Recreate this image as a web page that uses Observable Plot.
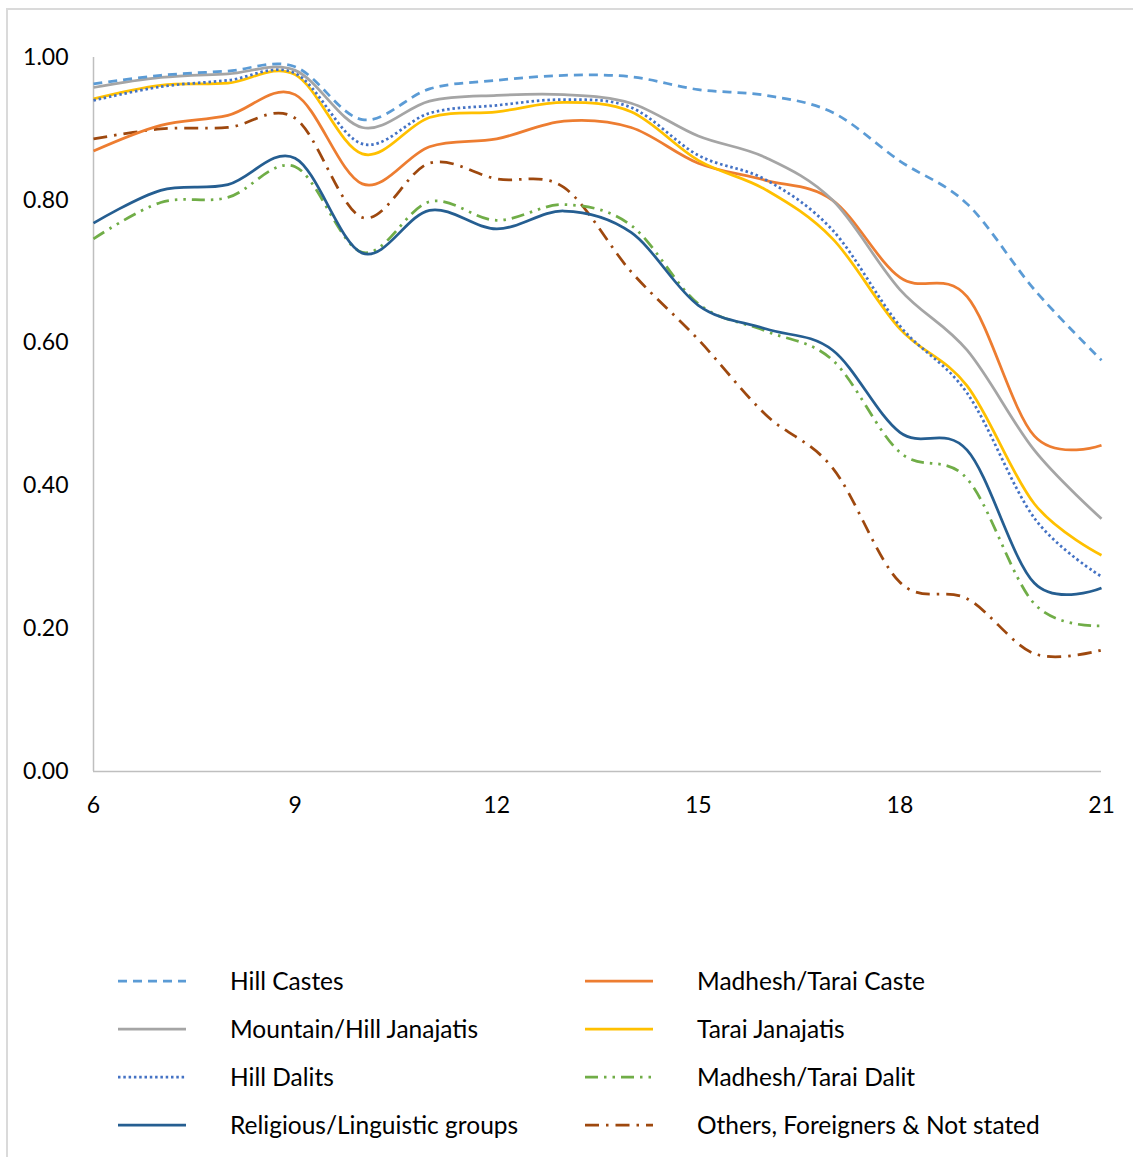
<!DOCTYPE html>
<html>
<head>
<meta charset="utf-8">
<script src="https://cdn.jsdelivr.net/npm/d3@7"></script>
<script src="https://cdn.jsdelivr.net/npm/@observablehq/plot@0.6"></script>
<style>
  html, body { margin: 0; padding: 0; background: #fff; overflow: hidden; width: 1133px; height: 1157px; }
  #frame { position: absolute; left: 6px; top: 8px; width: 1200px; height: 1200px; border: 2px solid #dadada; box-sizing: border-box; }
  #chart { position: absolute; left: 0; top: 0; }
  #legend { position: absolute; left: 0; top: 957px; width: 1133px; font-family: Lato, "Open Sans", sans-serif; font-size: 24.5px; color: #000; }
  .item { position: absolute; height: 48px; line-height: 48px; white-space: nowrap; }
  .item svg { position: absolute; top: 0; }
  .item span { position: absolute; }
</style>
</head>
<body>
<div id="frame"></div>
<div id="chart"></div>
<div id="legend"></div>
<script>
const ages = [6, 7, 8, 9, 10, 11, 12, 13, 14, 15, 16, 17, 18, 19, 20, 21];
const xTicks = [6, 9, 12, 15, 18, 21];
const yTicks = [0, 0.2, 0.4, 0.6, 0.8, 1.0];

const hillCastes            = [0.963, 0.975, 0.981, 0.987, 0.913, 0.956, 0.968, 0.975, 0.973, 0.955, 0.947, 0.923, 0.855, 0.795, 0.675, 0.576];
const madheshTaraiCaste     = [0.869, 0.905, 0.919, 0.948, 0.823, 0.875, 0.886, 0.911, 0.902, 0.852, 0.828, 0.800, 0.692, 0.665, 0.470, 0.457];
const mountainHillJanajatis = [0.958, 0.972, 0.977, 0.982, 0.902, 0.939, 0.947, 0.948, 0.936, 0.890, 0.860, 0.800, 0.675, 0.590, 0.450, 0.354];
const taraiJanajatis        = [0.942, 0.961, 0.964, 0.976, 0.865, 0.916, 0.924, 0.937, 0.924, 0.856, 0.815, 0.746, 0.620, 0.540, 0.375, 0.303];
const hillDalits            = [0.940, 0.959, 0.968, 0.978, 0.879, 0.922, 0.933, 0.941, 0.930, 0.863, 0.829, 0.758, 0.624, 0.530, 0.355, 0.273];
const madheshTaraiDalit     = [0.746, 0.797, 0.804, 0.847, 0.727, 0.798, 0.772, 0.794, 0.765, 0.655, 0.617, 0.576, 0.447, 0.410, 0.235, 0.204];
const religiousLinguistic   = [0.768, 0.814, 0.822, 0.859, 0.726, 0.786, 0.760, 0.785, 0.755, 0.653, 0.620, 0.590, 0.475, 0.450, 0.264, 0.257];
const othersForeigners      = [0.886, 0.900, 0.902, 0.915, 0.776, 0.852, 0.830, 0.818, 0.700, 0.605, 0.500, 0.425, 0.265, 0.242, 0.165, 0.170];

const seriesNames = [
  "Hill Castes", "Madhesh/Tarai Caste",
  "Mountain/Hill Janajatis", "Tarai Janajatis",
  "Hill Dalits", "Madhesh/Tarai Dalit",
  "Religious/Linguistic groups", "Others, Foreigners & Not stated"
];
const seriesValues = [hillCastes, madheshTaraiCaste, mountainHillJanajatis, taraiJanajatis,
  hillDalits, madheshTaraiDalit, religiousLinguistic, othersForeigners];

const styles = {
  "Hill Castes": {stroke: "#5B9BD5", dash: "9,6"},
  "Madhesh/Tarai Caste": {stroke: "#ED7D31", dash: null},
  "Mountain/Hill Janajatis": {stroke: "#A5A5A5", dash: null},
  "Tarai Janajatis": {stroke: "#FFC000", dash: null},
  "Hill Dalits": {stroke: "#4472C4", dash: "2.5,2.8"},
  "Madhesh/Tarai Dalit": {stroke: "#70AD47", dash: "13,6,2.5,6,2.5,6"},
  "Religious/Linguistic groups": {stroke: "#255E91", dash: null},
  "Others, Foreigners & Not stated": {stroke: "#9E480E", dash: "14,7,2.5,7"}
};

const data = [];
seriesNames.forEach((name, i) => {
  ages.forEach((a, j) => data.push({series: name, age: a, value: seriesValues[i][j]}));
});

const drawOrder = [
  "Others, Foreigners & Not stated", "Madhesh/Tarai Dalit", "Religious/Linguistic groups",
  "Madhesh/Tarai Caste", "Tarai Janajatis", "Hill Dalits", "Mountain/Hill Janajatis", "Hill Castes"
];

const lineMarks = drawOrder.map(name => {
  const s = styles[name];
  return Plot.line(data.filter(d => d.series === name), {
    x: "age", y: "value", stroke: s.stroke, strokeWidth: 2.75,
    strokeDasharray: s.dash || undefined, strokeLinecap: "butt",
    curve: "cardinal"
  });
});

const chart = Plot.plot({
  width: 1133, height: 830,
  marginLeft: 93, marginRight: 32, marginTop: 57, marginBottom: 59,
  style: {fontFamily: "Lato, 'Open Sans', sans-serif", fontSize: "23px", color: "#000", background: "transparent"},
  x: {domain: [6, 21]},
  y: {domain: [0, 1]},
  marks: [
    Plot.ruleX([6], {stroke: "#BFBFBF", strokeWidth: 1.5}),
    Plot.ruleY([0], {stroke: "#BFBFBF", strokeWidth: 1.5}),
    ...lineMarks,
    Plot.axisX({ticks: xTicks, tickSize: 0, tickPadding: 25, label: null, tickFormat: d => String(d), fill: "#000"}),
    Plot.axisY({ticks: yTicks, tickSize: 0, tickPadding: 25, label: null, tickFormat: d3.format(".2f"), fill: "#000"})
  ]
});
document.getElementById("chart").appendChild(chart);

const legend = document.getElementById("legend");
seriesNames.forEach((name, i) => {
  const col = i % 2, row = Math.floor(i / 2);
  const s = styles[name];
  const item = document.createElement("div");
  item.className = "item";
  item.style.left = (col === 0 ? 118 : 585) + "px";
  item.style.top = (row * 48) + "px";
  const svg = d3.create("svg").attr("width", 70).attr("height", 48);
  svg.append("line").attr("x1", 0).attr("x2", 68).attr("y1", 24).attr("y2", 24)
    .attr("stroke", s.stroke).attr("stroke-width", 2.75)
    .attr("stroke-dasharray", s.dash || null);
  item.appendChild(svg.node());
  const span = document.createElement("span");
  span.style.left = "112px";
  span.textContent = name;
  item.appendChild(span);
  legend.appendChild(item);
});
</script>
</body>
</html>
